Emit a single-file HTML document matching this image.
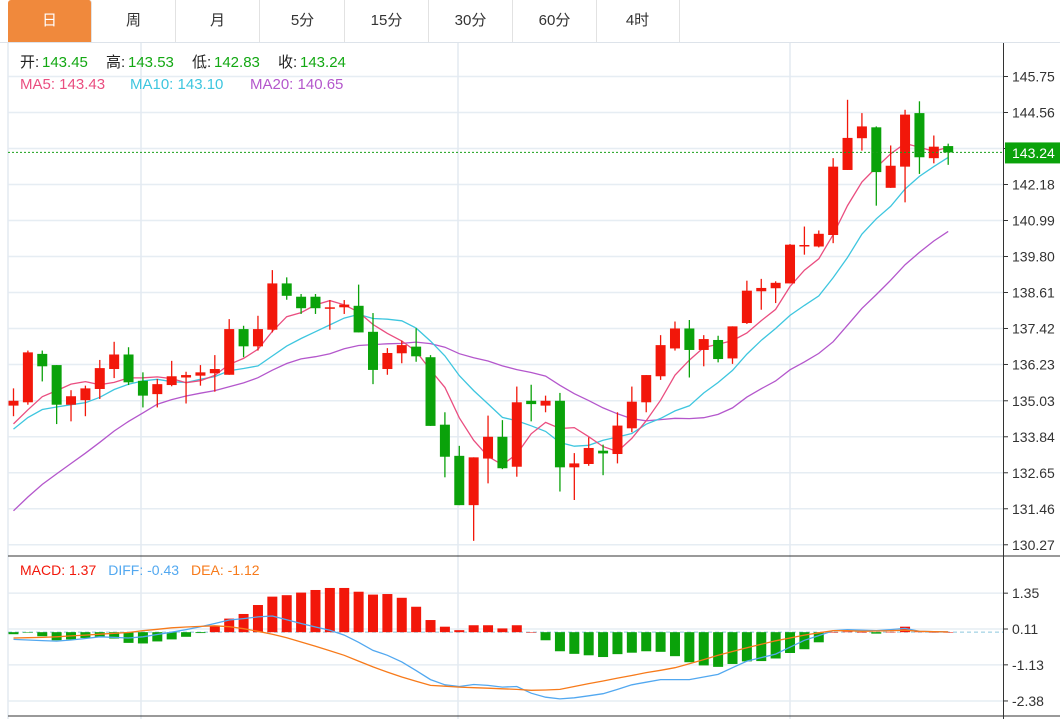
<!DOCTYPE html>
<html><head><meta charset="utf-8">
<style>
body{margin:0;background:#fff;width:1060px;height:719px;overflow:hidden;font-family:"Liberation Sans","Noto Sans CJK SC",sans-serif;}
#tabs{position:absolute;left:0;top:0;width:1060px;height:42px;border-bottom:1px solid #dde3ea;}
.tab{position:absolute;top:0;height:42px;width:84px;line-height:42px;text-align:center;font-size:15px;color:#333;border-right:1px solid #e2e2e2;box-sizing:border-box;}
.tab.active{background:#f0893c;color:#fff;border-radius:3px 3px 0 0;}
#chart{position:absolute;left:0;top:0;}
</style></head><body>
<div id="tabs">
<div class="tab active" style="left:8px">日</div>
<div class="tab" style="left:92px">周</div>
<div class="tab" style="left:176px">月</div>
<div class="tab" style="left:261px">5分</div>
<div class="tab" style="left:345px">15分</div>
<div class="tab" style="left:429px">30分</div>
<div class="tab" style="left:513px">60分</div>
<div class="tab" style="left:596px">4时</div>
</div>
<svg id="chart" width="1060" height="719" xmlns="http://www.w3.org/2000/svg" style="top:0"></svg>
<script>
const opens=[134.87,134.98,136.58,136.21,134.90,135.05,135.42,136.08,136.56,135.69,135.25,135.55,135.80,135.86,135.94,135.89,137.40,136.83,137.38,138.91,138.47,138.47,138.09,138.12,138.17,137.31,136.08,136.60,136.82,136.47,134.24,133.21,131.58,133.12,133.84,132.85,135.03,134.87,135.03,132.83,132.94,133.38,133.27,134.12,134.98,135.84,136.76,137.42,136.71,137.04,136.43,137.60,138.65,138.75,138.91,140.14,140.13,140.51,142.66,143.71,144.07,142.07,142.77,144.54,143.05,143.45];
const closes=[135.03,136.63,136.17,134.90,135.18,135.44,136.11,136.56,135.64,135.20,135.58,135.84,135.88,135.97,136.08,137.40,136.83,137.40,138.91,138.50,138.09,138.09,138.12,138.21,137.29,136.05,136.61,136.87,136.50,134.20,133.18,131.58,133.16,133.84,132.80,134.98,134.92,135.03,132.83,132.96,133.47,133.29,134.21,135.00,135.88,136.87,137.42,136.71,137.07,136.41,137.49,138.67,138.76,138.93,140.19,140.18,140.55,142.77,143.72,144.10,142.59,142.80,144.49,143.08,143.43,143.24];
const highs=[135.44,136.69,136.69,136.21,135.38,135.53,136.38,136.98,136.80,135.97,135.75,136.35,135.99,136.21,136.54,137.73,137.51,137.84,139.35,139.11,138.56,138.56,138.36,138.36,138.87,137.93,136.77,137.02,137.43,136.54,134.65,133.54,133.16,134.54,134.39,135.50,135.56,135.20,135.29,133.30,133.82,133.58,134.65,135.50,135.88,137.20,137.65,137.70,137.20,137.18,137.49,139.00,139.06,138.98,140.21,140.79,140.66,143.05,144.98,144.54,144.10,143.47,144.65,144.93,143.80,143.53];
const lows=[134.52,134.90,135.67,134.26,134.35,134.52,135.09,135.78,135.55,134.81,134.81,135.51,134.94,135.53,135.33,135.89,136.47,136.69,137.29,138.37,137.90,137.90,137.38,137.90,137.29,135.58,135.89,136.27,136.32,134.20,132.50,131.58,130.40,132.30,132.77,132.52,134.35,134.65,132.03,131.75,132.88,132.57,132.96,133.99,134.65,135.72,136.69,135.80,136.17,136.30,136.25,137.57,138.04,138.26,138.91,139.86,140.10,140.24,142.66,143.30,141.48,142.07,141.59,142.53,142.88,142.83];
const priorCloses=[127.5,127.8,128.0,128.3,128.6,128.9,129.1,129.3,129.6,129.8,132.8,133.5,134.1,134.4,134.8,134.3,134.0,133.9,134.1];
const priceTicks=[145.75,144.56,143.37,142.18,140.99,139.80,138.61,137.42,136.23,135.03,133.84,132.65,131.46,130.27];
const macdBars=[-0.07,-0.01,-0.14,-0.28,-0.25,-0.20,-0.16,-0.22,-0.37,-0.39,-0.32,-0.25,-0.16,-0.03,0.21,0.47,0.63,0.94,1.23,1.28,1.37,1.46,1.53,1.53,1.40,1.30,1.32,1.19,0.88,0.42,0.19,0.07,0.24,0.24,0.13,0.24,0.00,-0.28,-0.66,-0.75,-0.80,-0.86,-0.76,-0.71,-0.66,-0.68,-0.83,-1.04,-1.15,-1.20,-1.10,-1.01,-1.00,-0.91,-0.72,-0.59,-0.35,0.00,0.02,0.00,-0.05,0.01,0.19,0.02,0.00,0.00];
const diffLine=[-0.25,-0.27,-0.29,-0.31,-0.27,-0.22,-0.16,-0.18,-0.20,-0.16,-0.08,0.00,0.09,0.19,0.30,0.42,0.47,0.53,0.56,0.43,0.30,0.18,0.07,-0.10,-0.35,-0.63,-0.80,-1.03,-1.33,-1.64,-1.82,-1.88,-1.81,-1.84,-1.90,-1.88,-2.11,-2.25,-2.31,-2.27,-2.20,-2.13,-1.98,-1.82,-1.73,-1.64,-1.64,-1.64,-1.55,-1.46,-1.23,-1.00,-0.88,-0.76,-0.52,-0.28,-0.12,0.05,0.09,0.07,0.05,0.09,0.13,0.03,0.02,0.01];
const deaLine=[-0.20,-0.19,-0.18,-0.16,-0.13,-0.10,-0.07,-0.04,-0.01,0.05,0.10,0.15,0.18,0.20,0.22,0.19,0.12,0.03,-0.07,-0.19,-0.34,-0.49,-0.64,-0.80,-1.00,-1.20,-1.38,-1.55,-1.70,-1.84,-1.87,-1.90,-1.92,-1.94,-1.96,-1.98,-2.01,-2.00,-1.98,-1.88,-1.78,-1.69,-1.59,-1.50,-1.40,-1.32,-1.23,-1.09,-0.95,-0.80,-0.67,-0.54,-0.42,-0.30,-0.20,-0.10,-0.02,0.05,0.05,0.03,0.04,0.05,0.07,0.03,0.02,0.01];
const macdTicks=[1.35,0.11,-1.13,-2.38];

const NS='http://www.w3.org/2000/svg';
const svg=document.getElementById('chart');
function mk(tag,attrs,parent){const e=document.createElementNS(NS,tag);for(const k in attrs)e.setAttribute(k,attrs[k]);(parent||svg).appendChild(e);return e;}
const xAt=i=>13.5+i*14.38;
const yP=p=>76.5+(145.75-p)*30.25;
const yM=v=>629+(0.11-v)*28.9;
const RED='#f2170a',GREEN='#0aa20a';
const F='"Liberation Sans","Noto Sans CJK SC",sans-serif';

// grid
for(const t of priceTicks){const g=mk('line',{x1:8,x2:1003,y1:yP(t),y2:yP(t),stroke:'#e6edf3','stroke-width':1.5});

}
for(const t of macdTicks){const g=mk('line',{x1:8,x2:1003,y1:yM(t),y2:yM(t),stroke:'#e6edf3','stroke-width':1.5});

}
for(const x of [8,141,458,790]){const g=mk('line',{x1:x,x2:x,y1:43,y2:719,stroke:'#e3eaf1','stroke-width':1.5});

}
const sep=mk('line',{x1:8,x2:1060,y1:556,y2:556,stroke:'#333','stroke-width':1});


const bot=mk('line',{x1:8,x2:1060,y1:716,y2:716,stroke:'#333','stroke-width':1});


const ax=mk('line',{x1:1003.5,x2:1003.5,y1:43,y2:719,stroke:'#333','stroke-width':1});



// price axis labels
priceTicks.forEach(t=>{
  const tk=mk('line',{x1:1004,x2:1008,y1:yP(t),y2:yP(t),stroke:'#333'});
  
  
  const tx=mk('text',{x:1012,y:yP(t)+5,'font-size':14,fill:'#333','font-family':F});
  tx.textContent=t.toFixed(2);
  
  
});
macdTicks.forEach(t=>{
  const tk=mk('line',{x1:1004,x2:1008,y1:yM(t),y2:yM(t),stroke:'#333'});
  
  
  const tx=mk('text',{x:1012,y:yM(t)+5,'font-size':14,fill:'#333','font-family':F});
  tx.textContent=t.toFixed(2);
  
  
});

// MAs
const all=priorCloses.concat(closes);
function ma(n){const r=[];for(let i=0;i<closes.length;i++){const j=i+priorCloses.length;let s=0;for(let k=j-n+1;k<=j;k++)s+=all[k];r.push(s/n);}return r;}
function line(vals,f,color,name){const pts=vals.map((v,i)=>xAt(i).toFixed(1)+','+f(v).toFixed(1)).join(' ');
const pl=mk('polyline',{points:pts,fill:'none',stroke:color,'stroke-width':1.3});

}
line(ma(20),yP,'#b457cc','ma20-line');
line(ma(10),yP,'#3ec6df','ma10-line');
line(ma(5),yP,'#ea4e80','ma5-line');

// candles
const n=Math.min(opens.length,closes.length,highs.length,lows.length);
for(let i=0;i<n;i++){
  const up=closes[i]>=opens[i];const c=up?RED:GREEN;const x=xAt(i);
  const w=mk('line',{x1:x,x2:x,y1:yP(highs[i]),y2:yP(lows[i]),stroke:c,'stroke-width':1.3});
  
  
  const top=yP(Math.max(opens[i],closes[i])),bt=yP(Math.min(opens[i],closes[i]));
  const b=mk('rect',{x:x-5,y:top,width:10,height:Math.max(1.5,bt-top),fill:c});
  
  
}
// last price line
const lp=closes[closes.length-1];
const dl=mk('line',{x1:8,x2:1003,y1:yP(lp),y2:yP(lp),stroke:'#1aa01a','stroke-dasharray':'2,2','stroke-width':1});


const lb=mk('rect',{x:1005,y:yP(lp)-10,width:55,height:21,fill:'#0aa20a'});


const lt=mk('text',{x:1012,y:yP(lp)+5.5,'font-size':14,fill:'#fff','font-family':F});
lt.textContent=lp.toFixed(2);



// MACD
const z=mk('line',{x1:8,x2:1003,y1:yM(0),y2:yM(0),stroke:'#8cc7de','stroke-dasharray':'4,3','stroke-width':1});


macdBars.forEach((v,i)=>{
  const y0=yM(0),y1=yM(v);
  const r=mk('rect',{x:xAt(i)-5,y:Math.min(y0,y1),width:10,height:Math.max(0.5,Math.abs(y1-y0)),fill:v>=0?RED:GREEN});
  
  
});
line(diffLine,yM,'#52a8f0','diff-line');
line(deaLine,yM,'#f77a1a','dea-line');

// info texts
function txt(x,y,s,color,name){const t=mk('text',{x:x,y:y,'font-size':15,fill:color,'font-family':F});t.textContent=s;

return t;}
const G='#13a813';
txt(20,67,'开:','#222','open-label');txt(42,67,'143.45',G,'open-value');
txt(106,67,'高:','#222','high-label');txt(128,67,'143.53',G,'high-value');
txt(192,67,'低:','#222','low-label');txt(214,67,'142.83',G,'low-value');
txt(278,67,'收:','#222','close-label');txt(300,67,'143.24',G,'close-value');
txt(20,89,'MA5: 143.43','#ea4e80','ma5-legend');
txt(130,89,'MA10: 143.10','#3ec6df','ma10-legend');
txt(250,89,'MA20: 140.65','#b457cc','ma20-legend');
const ms=mk('text',{x:20,y:575,'font-size':14,'font-family':F});


ms.innerHTML='<tspan fill="#f2170a">MACD: 1.37</tspan><tspan dx="12" fill="#52a8f0">DIFF: -0.43</tspan><tspan dx="12" fill="#f77a1a">DEA: -1.12</tspan>';
</script>
</body></html>
